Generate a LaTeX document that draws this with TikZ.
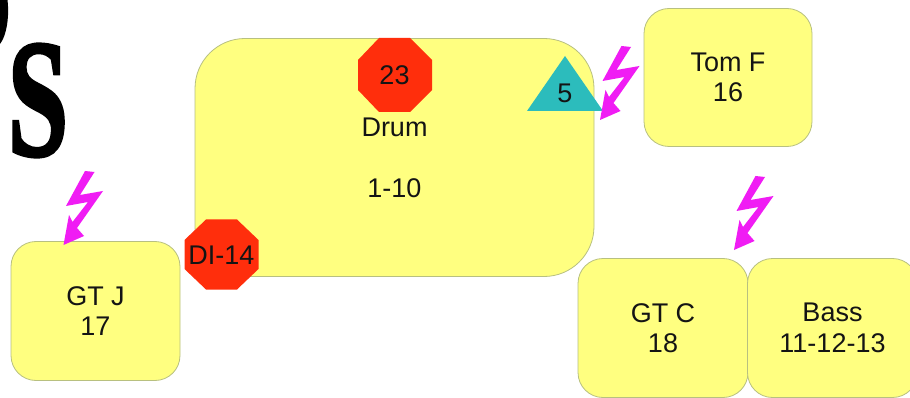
\documentclass[tikz,border=0pt]{standalone}
\usepackage{fontspec}
\setmainfont{Liberation Sans}
\newfontfamily\serifheavy{Liberation Serif Bold}[FakeBold=2]
\definecolor{boxfill}{HTML}{FFFF80}
\definecolor{boxline}{HTML}{B8C080}
\definecolor{stopred}{HTML}{FF2E0C}
\definecolor{teal5}{HTML}{2CBCBC}
\definecolor{bolt}{HTML}{F01CF4}
\newcommand{\boltat}[2]{\fill[bolt,shift={(#1,#2)}] (0,0) -- (5.5,-30) -- (9,-23) -- (24.5,-43) -- (2.5,-39) -- (21.5,-74) -- (31,-73) -- (16.5,-50) -- (39.5,-54) -- (13.5,-17) -- (20.5,-9) -- cycle;}
\tikzset{
  lbl/.style={font=\fontsize{27}{30.5}\selectfont,text=black!92,align=center,inner sep=0pt},
  box/.style={draw=boxline,fill=boxfill,line width=0.8pt,rounded corners=#1,lbl,anchor=center},
  box/.default=25pt
}
\begin{document}
\begin{tikzpicture}[x=1pt,y=-1pt]
\useasboundingbox (0,0) rectangle (910,398);
\clip (0,0) rectangle (910,398);
\fill[white] (0,0) rectangle (910,398);
% title fragment
\node[inner sep=0pt,anchor=center,xscale=0.65] (title) at (38,100.5) {\fontsize{168}{168}\selectfont\serifheavy S};
\fill[black] (0,0) -- (7.5,0) .. controls (9,12) and (8,30) .. (2,41) -- (0,44) -- cycle;
% boxes
\node[box=50pt,minimum width=399pt,minimum height=238pt] (drum) at (394.5,157.5) {Drum\\ \\1-10};
\node[box,minimum width=168pt,minimum height=138pt] (tomf) at (728,77.5) {Tom F\\16};
\node[box,minimum width=169pt,minimum height=139pt] (gtj) at (95.5,311) {GT J\\17};
\node[box,minimum width=170pt,minimum height=139pt] (gtc) at (663,328) {GT C\\18};
\node[box,minimum width=170pt,minimum height=139pt] (bass) at (832.5,328) {Bass\\11-12-13};
% octagons
\fill[stopred] (379,38) -- (410,38) -- (432,60) -- (432,90) -- (410,112) -- (379,112) -- (358,90) -- (358,60) -- cycle;
\node[lbl] (n23) at (394.5,75.5) {23};
\fill[stopred] (206,219.5) -- (237,219.5) -- (258.5,240) -- (258.5,269) -- (237,289.5) -- (206,289.5) -- (184.5,269) -- (184.5,240) -- cycle;
\node[lbl] (di) at (221.5,255.5) {DI-14};
% triangle
\fill[teal5] (565,56) -- (603,111) -- (527,111) -- cycle;
\node[lbl] (n5) at (565,93.5) {5};
% bolts
\boltat{63.5}{245}
\boltat{600}{120}
\boltat{734}{250}
\end{tikzpicture}
\end{document}
